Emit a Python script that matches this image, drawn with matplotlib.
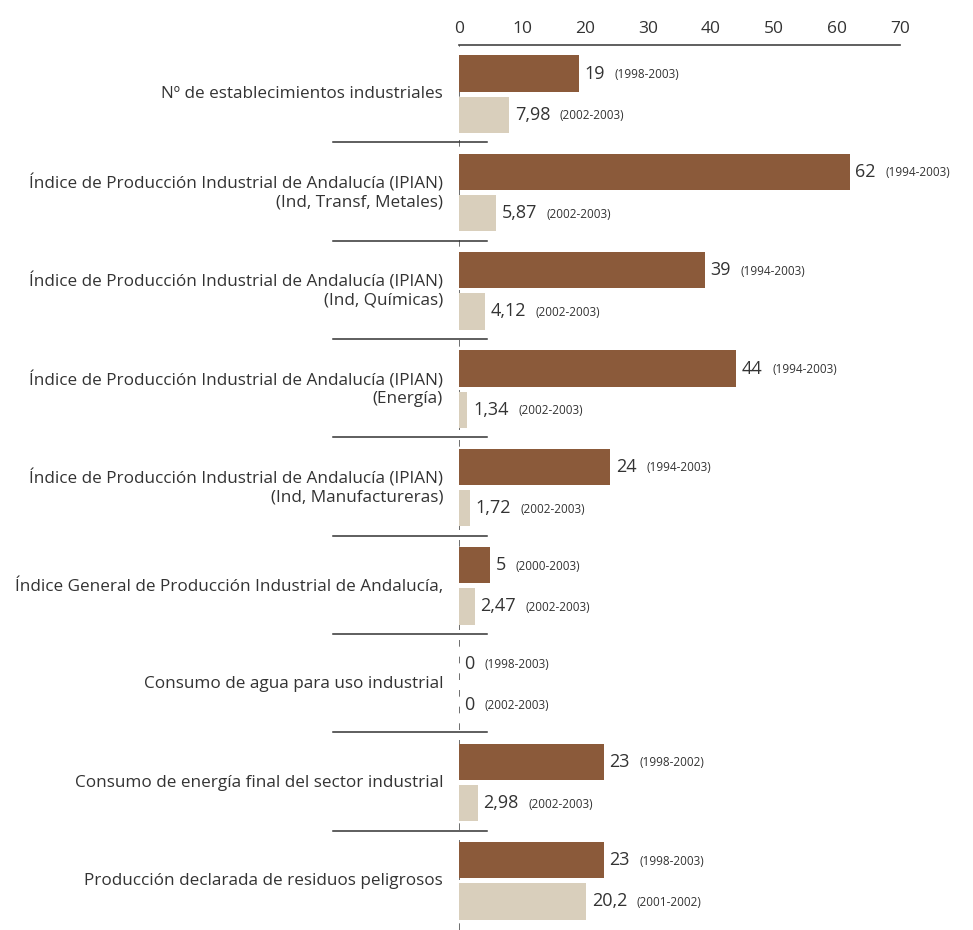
import matplotlib
matplotlib.use('Agg')
import matplotlib.pyplot as plt
import numpy as np

plt.rcParams['font.family'] = ['Open Sans', 'DejaVu Sans']

# ── datos ──
categorias = [
    'Nº de establecimientos industriales',
    'Índice de Producción Industrial de Andalucía (IPIAN)\n(Ind, Transf, Metales)',
    'Índice de Producción Industrial de Andalucía (IPIAN)\n(Ind, Químicas)',
    'Índice de Producción Industrial de Andalucía (IPIAN)\n(Energía)',
    'Índice de Producción Industrial de Andalucía (IPIAN)\n(Ind, Manufactureras)',
    'Índice General de Producción Industrial de Andalucía,',
    'Consumo de agua para uso industrial',
    'Consumo de energía final del sector industrial',
    'Producción declarada de residuos peligrosos',
]
valor_largo = [19, 62, 39, 44, 24, 5, 0, 23, 23]
periodo_largo = ['(1998-2003)', '(1994-2003)', '(1994-2003)', '(1994-2003)', '(1994-2003)',
                 '(2000-2003)', '(1998-2003)', '(1998-2002)', '(1998-2003)']
valor_corto = [7.98, 5.87, 4.12, 1.34, 1.72, 2.47, 0, 2.98, 20.2]
periodo_corto = ['(2002-2003)', '(2002-2003)', '(2002-2003)', '(2002-2003)', '(2002-2003)',
                 '(2002-2003)', '(2002-2003)', '(2002-2003)', '(2001-2002)']

C_OSCURO = '#8b5a3a'
C_CLARO = '#d9cfbc'
C_TEXTO = '#333333'

def fmt(v):
    return f'{v:g}'.replace('.', ',')

fig = plt.figure(figsize=(9.73, 9.30), dpi=100)
ax = fig.add_axes([0.4717, 0.0, 0.4532, 0.9516])

y = np.arange(len(categorias))
dy, h = 0.21, 0.37
ax.barh(y - dy, valor_largo, height=h, color=C_OSCURO)
ax.barh(y + dy, valor_corto, height=h, color=C_CLARO)

ax.set_xlim(0, 70)
ax.set_ylim(len(categorias) - 0.5, -0.5)

# eje superior
ax.xaxis.tick_top()
ax.set_xticks(range(0, 71, 10))
ax.tick_params(axis='x', length=0, pad=6, labelsize=12.5, labelcolor=C_TEXTO)
ax.set_yticks([])
for s in ['left', 'right', 'bottom']:
    ax.spines[s].set_visible(False)
ax.spines['top'].set_color('#444444')
ax.spines['top'].set_linewidth(1.2)

# línea discontinua en cero
ax.axvline(0, color='#555555', lw=1.2, ls=(0, (4, 6)), zorder=0)

# separadores
tr = ax.get_yaxis_transform()
for i in range(len(categorias) - 1):
    ax.plot([-0.286, 0.063], [i + 0.49, i + 0.49], transform=tr, color='#333333',
            lw=1.1, clip_on=False)

# etiquetas de categoría
for i, c in enumerate(categorias):
    ax.text(-0.036, i, c, transform=tr, ha='right', va='center', fontsize=12.3,
            color=C_TEXTO, linespacing=1.15)

# etiquetas de valores
def etiqueta(x, yy, val, per):
    t = ax.annotate(fmt(val), (x, yy), xytext=(4, 0), textcoords='offset points',
                    ha='left', va='center', fontsize=13, color=C_TEXTO)
    ax.annotate(per, xy=(1, 0.45), xycoords=t, xytext=(7, 0), textcoords='offset points',
                ha='left', va='center', fontsize=8.5, color=C_TEXTO)

for i in range(len(categorias)):
    etiqueta(valor_largo[i], i - dy, valor_largo[i], periodo_largo[i])
    etiqueta(valor_corto[i], i + dy, valor_corto[i], periodo_corto[i])

fig.savefig('out.png', dpi=100, facecolor='white')
